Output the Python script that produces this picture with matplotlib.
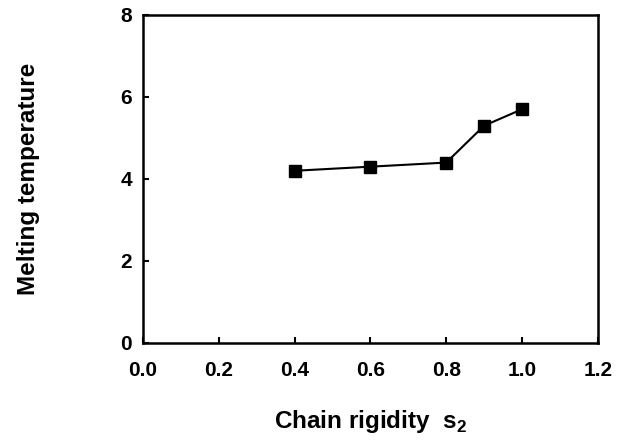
import matplotlib
matplotlib.use("Agg")
import matplotlib.pyplot as plt  # noqa: E402

# chain rigidity vs melting temperature
rigidity = [0.4, 0.6, 0.8, 0.9, 1.0]
melting_temp = [4.2, 4.3, 4.4, 5.3, 5.7]
xticks = [0.0, 0.2, 0.4, 0.6, 0.8, 1.0, 1.2]
yticks = [0, 2, 4, 6, 8]

plt.rcParams["font.family"] = ["Liberation Sans", "DejaVu Sans"]
plt.rcParams["font.weight"] = "bold"
plt.rcParams["mathtext.fontset"] = "custom"
plt.rcParams["mathtext.bf"] = "Liberation Sans:bold"
plt.rcParams["mathtext.rm"] = "Liberation Sans:bold"

fig = plt.figure(figsize=(6.34, 4.4), dpi=100)
ax = fig.add_axes([0.2256, 0.2205, 0.7174, 0.7455])

ax.plot(rigidity, melting_temp, color="black", linewidth=1.5,
        marker="s", markersize=8)

ax.set_xlim(0, 1.2)
ax.set_ylim(0, 8)
ax.set_xticks(xticks)
ax.set_xticklabels([f"{t:.1f}" for t in xticks])
ax.set_yticks(yticks)
ax.tick_params(direction="in", length=4, width=1.5, labelsize=15)
ax.tick_params(axis="x", pad=13)
ax.tick_params(axis="y", pad=8)
for lbl in ax.get_xticklabels() + ax.get_yticklabels():
    lbl.set_fontweight("bold")
for sp in ax.spines.values():
    sp.set_linewidth(1.8)

ax.set_xlabel(r"Chain rigidity  s$_\mathbf{2}$", fontsize=17.5,
              fontweight="bold")
ax.xaxis.label.set_va("center")
ax.xaxis.set_label_coords(0.5, -0.24)
ax.set_ylabel("Melting temperature", fontsize=17.5, fontweight="bold")
ax.yaxis.label.set_va("center")
ax.yaxis.set_label_coords(-0.252, 0.5)

fig.savefig("out.png", dpi=100)
plt.close(fig)
